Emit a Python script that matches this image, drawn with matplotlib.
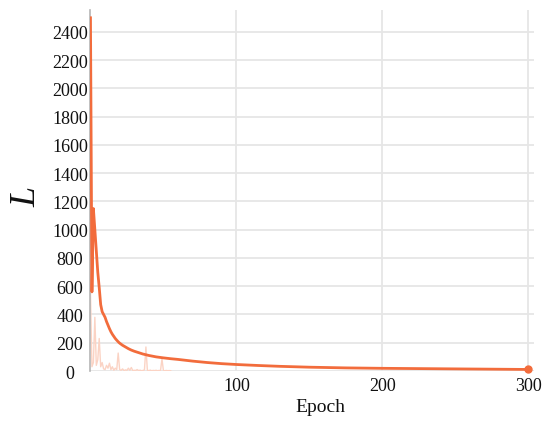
import matplotlib
matplotlib.use("Agg")
import matplotlib.pyplot as plt

# Main loss curve (epoch, value)
epochs = [0, 1, 2, 3, 4, 5, 6, 7, 8, 9, 10, 11, 12, 13, 14, 15, 16, 17, 18, 19,
          20, 22, 24, 26, 28, 30, 33, 36, 40, 45, 50, 55, 60, 70, 80, 90, 100,
          115, 130, 150, 175, 200, 225, 250, 275, 300]
loss = [2500, 560, 1150, 1000, 850, 700, 590, 470, 420, 400, 380, 350, 325, 300,
        278, 260, 245, 230, 218, 207, 197, 182, 170, 158, 148, 140, 130, 120,
        110, 100, 93, 87, 82, 70, 60, 52, 46, 39, 33, 27, 22, 19, 17, 15, 13, 11]

# Faint secondary series (spiky, near zero)
pale_epochs = list(range(0, 56))
pale_vals = [550, 30, 60, 380, 40, 80, 230, 30, 60, 15, 10, 40, 20, 55, 10, 30,
             5, 20, 10, 127, 10, 5, 15, 3, 8, 5, 20, 5, 25, 3, 5, 4, 10, 3, 6,
             2, 4, 8, 170, 5, 3, 6, 2, 4, 3, 5, 2, 4, 3, 85, 3, 2, 4, 2, 3, 2]

yticks = list(range(0, 2401, 200))
xticks = [100, 200, 300]

main_color = "#f26c3c"
pale_color = "#fbd3c4"

fig = plt.figure(figsize=(5.5, 4.27), dpi=100)
ax = fig.add_axes([0.1645, 0.1288, 0.8064, 0.8454])

ax.plot(pale_epochs, pale_vals, color=pale_color, lw=1.0, zorder=2)
ax.plot(epochs, loss, color=main_color, lw=2.0, zorder=3,
        solid_joinstyle="round")
ax.plot([epochs[-1]], [loss[-1]], "o", color=main_color, ms=5, zorder=4,
        clip_on=False)

ax.set_xlim(0, 304)
ax.set_ylim(0, 2555)
ax.set_xticks(xticks)
ax.set_yticks(yticks)

font = "Liberation Serif"
ax.set_xticklabels([str(t) for t in xticks], fontsize=13, family=font)
ax.set_yticklabels([str(t) for t in yticks], fontsize=13, family=font)
for lab in ax.get_yticklabels():
    lab.set_horizontalalignment("center")
ax.tick_params(axis="y", length=0, pad=14.8, colors="#111111")
ax.tick_params(axis="x", length=0, pad=4, colors="#111111")

ax.grid(True, color="#e6e6e6", lw=1.3, zorder=0)
ax.set_axisbelow(True)
for s in ["top", "right", "bottom"]:
    ax.spines[s].set_visible(False)
ax.spines["left"].set_color("#b5b5b5")
ax.spines["left"].set_linewidth(1.2)

ax.set_xlabel("Epoch", fontsize=14, family=font, color="#111111")
ax.xaxis.set_label_coords((320 - 90.5) / (534 - 90.5), -0.075)

fig.text(27 / 550, 1 - 197 / 427, "L", fontsize=26, family=font,
         style="italic", rotation=90, ha="center", va="center",
         color="#111111")

fig.savefig("out.png", dpi=100)
